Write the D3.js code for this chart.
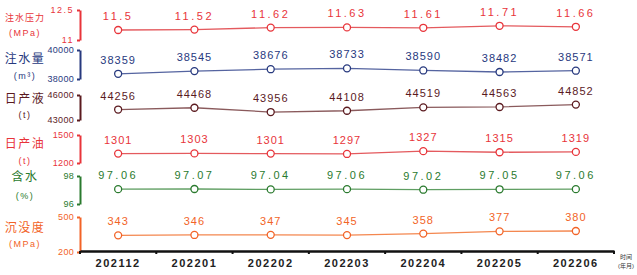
<!DOCTYPE html>
<html>
<head>
<meta charset="utf-8">
<script src="https://cdn.jsdelivr.net/npm/d3@7/dist/d3.min.js"></script>
<style>
  body { margin: 0; background: #fff; }
  svg text { font-family: "Liberation Sans", "Noto Sans CJK SC", sans-serif; }
</style>
</head>
<body>
<div id="container"></div>
<script>
// ---------- data ----------
var months = ["202112", "202201", "202202", "202203", "202204", "202205", "202206"];

var injPressure = [11.5, 11.52, 11.62, 11.63, 11.61, 11.71, 11.66];
var injVolume   = [38359, 38545, 38676, 38733, 38590, 38482, 38571];
var dailyLiquid = [44256, 44468, 43956, 44108, 44519, 44563, 44852];
var dailyOil    = [1301, 1303, 1301, 1297, 1327, 1315, 1319];
var waterCut    = [97.06, 97.07, 97.04, 97.06, 97.02, 97.05, 97.06];
var submergence = [343, 346, 347, 345, 358, 377, 380];

var panelNames = ["注水压力", "注水量", "日产液", "日产油", "含水", "沉没度"];
var panelUnits = ["(MPa)", "(m³)", "(t)", "(t)", "(%)", "(MPa)"];
var panelTicks = [[11, 12.5], [38000, 40000], [43000, 46000], [1200, 1500], [96, 98], [200, 500]];
var tickLabels = [["11", "12.5"], ["38000", "40000"], ["43000", "46000"], ["1200", "1500"], ["96", "98"], ["200", "500"]];

// ---------- layout ----------
const width = 637, height = 275;
const left = 80, right = 614, axisY = 251;

const colors = ["#e8343a", "#27397e", "#5b1a1f", "#e8343a", "#2a7a2e", "#f26327"];
const lineColors = ["#e45a5e", "#5564a0", "#8a5a5c", "#e45a5e", "#5f9e62", "#f4874f"];
// vertical band (top, bottom) of each panel
const bands = [[10, 40], [50, 79], [95, 120], [135, 163], [176, 204], [217, 252]];
const nameY = [[21, 36], [63, 79], [103, 118], [148, 164], [181, 199], [232, 247]];
const nameSize = [9, 12, 12, 12, 12, 12];

const series = [injPressure, injVolume, dailyLiquid, dailyOil, waterCut, submergence];
const fmt = [
  d => d.toString(),
  d => d.toString(),
  d => d.toString(),
  d => d.toString(),
  d => d.toFixed(2),
  d => d.toString()
];

const svg = d3.select("#container").append("svg")
  .attr("width", width)
  .attr("height", height);

const x = d3.scaleBand().domain(months).range([left, right]);

series.forEach(function(vals, i) {
  const y = d3.scaleLinear().domain(panelTicks[i]).range([bands[i][1], bands[i][0]]);
  const g = svg.append("g");

  // bracket axis
  const ax = d3.axisLeft(y).tickValues(panelTicks[i]).tickSize(3).tickSizeOuter(0)
    .tickFormat((d, k) => tickLabels[i][k]);
  const axg = g.append("g").attr("transform", "translate(" + left + ",0)").call(ax);
  axg.select(".domain").attr("stroke", colors[i]).attr("stroke-width", 2);
  axg.selectAll(".tick line").attr("stroke", colors[i]).attr("stroke-width", 2);
  axg.selectAll(".tick text")
    .attr("fill", colors[i])
    .attr("x", -6)
    .style("font-size", "9px")
    .style("letter-spacing", i == 0 ? "1.5px" : "0.3px");

  // panel title
  g.append("text")
    .attr("x", 25).attr("y", nameY[i][0])
    .attr("text-anchor", "middle")
    .attr("fill", colors[i])
    .style("font-size", nameSize[i] + "px")
    .style("letter-spacing", i == 0 ? "1px" : "1.5px")
    .text(panelNames[i]);
  g.append("text")
    .attr("x", 25).attr("y", nameY[i][1])
    .attr("text-anchor", "middle")
    .attr("fill", colors[i])
    .style("font-size", "9px")
    .style("letter-spacing", "1.5px")
    .text(panelUnits[i]);

  // line
  const line = d3.line()
    .x((d, k) => x(months[k]) + x.bandwidth() / 2)
    .y(d => y(d));
  g.append("path")
    .attr("d", line(vals))
    .attr("fill", "none")
    .attr("stroke", lineColors[i])
    .attr("stroke-width", 1.3);

  g.selectAll("circle").data(vals).enter().append("circle")
    .attr("cx", (d, k) => x(months[k]) + x.bandwidth() / 2)
    .attr("cy", d => y(d))
    .attr("r", 3.5)
    .attr("fill", "#fff")
    .attr("stroke", colors[i])
    .attr("stroke-width", 1.3);

  g.selectAll(".val").data(vals).enter().append("text")
    .attr("class", "val")
    .attr("x", (d, k) => x(months[k]) + x.bandwidth() / 2)
    .attr("y", d => y(d) - 10)
    .attr("text-anchor", "middle")
    .attr("fill", colors[i])
    .style("font-size", "11px")
    .style("letter-spacing", i == 0 || i == 4 ? "2.5px" : "1px")
    .text(fmt[i]);
});

// ---------- x axis ----------
const xaxis = d3.axisBottom(x).tickSize(0).tickSizeOuter(0);
const xg = svg.append("g").attr("transform", "translate(0," + axisY + ")").call(xaxis);
xg.select(".domain").attr("stroke", "#111").attr("stroke-width", 2.5);
xg.selectAll(".tick text")
  .attr("y", 8)
  .attr("fill", "#222")
  .style("font-size", "11px")
  .style("font-weight", "bold")
  .style("letter-spacing", "1.5px");

// small dividers between months
xg.selectAll(".sep").data(months.concat(["end"])).enter().append("line")
  .attr("x1", (d, k) => left + k * x.bandwidth())
  .attr("x2", (d, k) => left + k * x.bandwidth())
  .attr("y1", 0).attr("y2", 3)
  .attr("stroke", "#111").attr("stroke-width", 2);

svg.append("text")
  .attr("x", 626).attr("y", 259)
  .attr("text-anchor", "middle")
  .attr("fill", "#333")
  .style("font-size", "6px")
  .text("时间");
svg.append("text")
  .attr("x", 626).attr("y", 268)
  .attr("text-anchor", "middle")
  .attr("fill", "#333")
  .style("font-size", "6px")
  .text("(年月)");
</script>
</body>
</html>
